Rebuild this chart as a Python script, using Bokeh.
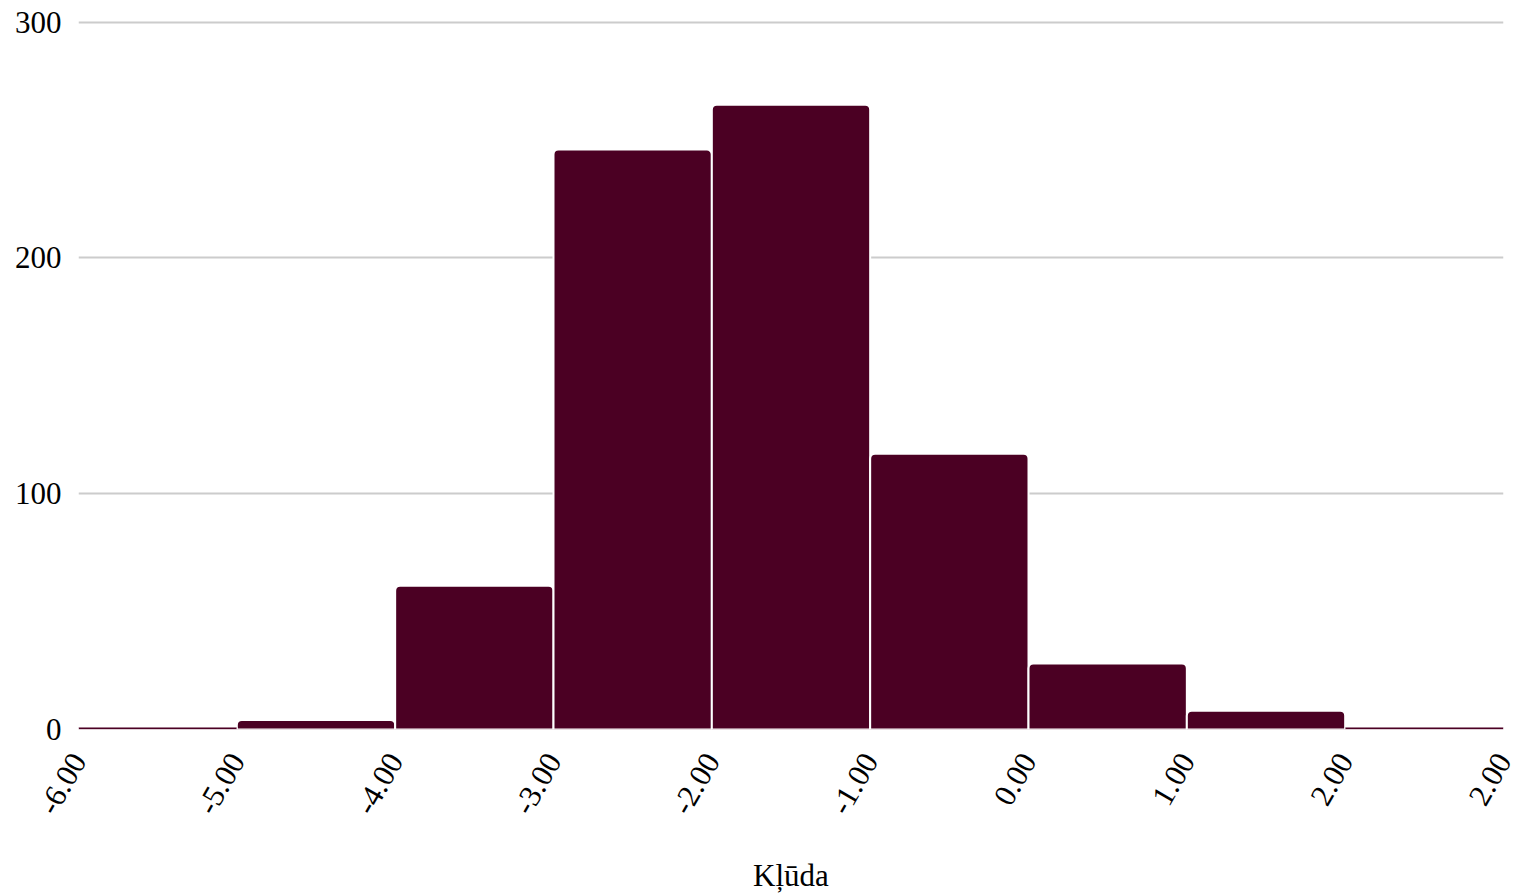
import math
from bokeh.plotting import figure
from bokeh.models import FixedTicker, ColumnDataSource
from bokeh.embed import file_html
from bokeh.resources import INLINE

# Data
bin_left = [-6, -5, -4, -3, -2, -1, 0, 1, 2]
bin_right = [-5, -4, -3, -2, -1, 0, 1, 2, 3]
counts = [1, 4, 61, 246, 265, 117, 28, 8, 1]
tick_positions = [-6, -5, -4, -3, -2, -1, 0, 1, 2, 3]
tick_labels = ["-6.00", "-5.00", "-4.00", "-3.00", "-2.00", "-1.00", "0.00", "1.00", "2.00", "2.00"]
y_ticks = [0, 100, 200, 300]

FONT = "Liberation Serif"
BAR = "#4b0023"

p = figure(width=1519, height=895, output_backend="svg", toolbar_location=None,
           x_range=(-6, 3), y_range=(0, 302),
           min_border_left=78, min_border_right=16, min_border_top=17, min_border_bottom=166)
p.outline_line_color = None

tall = [i for i, c in enumerate(counts) if c >= 3]
short = [i for i, c in enumerate(counts) if c < 3]

def sub(idx):
    return ColumnDataSource(dict(left=[bin_left[i] for i in idx], right=[bin_right[i] for i in idx],
                                 top=[counts[i] for i in idx], bottom=[0]*len(idx)))

p.quad(left="left", right="right", top="top", bottom="bottom", source=sub(tall),
       fill_color=BAR, line_color="white", line_width=2, border_radius=(5, 5, 0, 0))
p.quad(left="left", right="right", top="top", bottom="bottom", source=sub(short),
       fill_color=BAR, line_color="white", line_width=0.5)

p.xgrid.grid_line_color = None
p.ygrid.grid_line_color = "#cccccc"
p.ygrid.grid_line_width = 2

p.yaxis.ticker = FixedTicker(ticks=y_ticks)
p.xaxis.ticker = FixedTicker(ticks=tick_positions)
p.xaxis.major_label_overrides = {t: l for t, l in zip(tick_positions, tick_labels)}
p.xaxis.major_label_orientation = math.pi / 3

for ax in (p.xaxis, p.yaxis):
    ax.axis_line_color = None
    ax.major_tick_line_color = None
    ax.minor_tick_line_color = None
    ax.major_label_text_font = FONT
    ax.major_label_text_font_size = "31px"
    ax.major_label_text_color = "#000000"

p.yaxis.major_label_standoff = 11
p.xaxis.major_label_standoff = 20
p.xaxis.axis_label = "Kļūda"
p.xaxis.axis_label_text_font = FONT
p.xaxis.axis_label_text_font_size = "31px"
p.xaxis.axis_label_text_font_style = "normal"
p.xaxis.axis_label_text_color = "#000000"
p.xaxis.axis_label_standoff = 33

open("out.html", "w").write(file_html(p, INLINE))
